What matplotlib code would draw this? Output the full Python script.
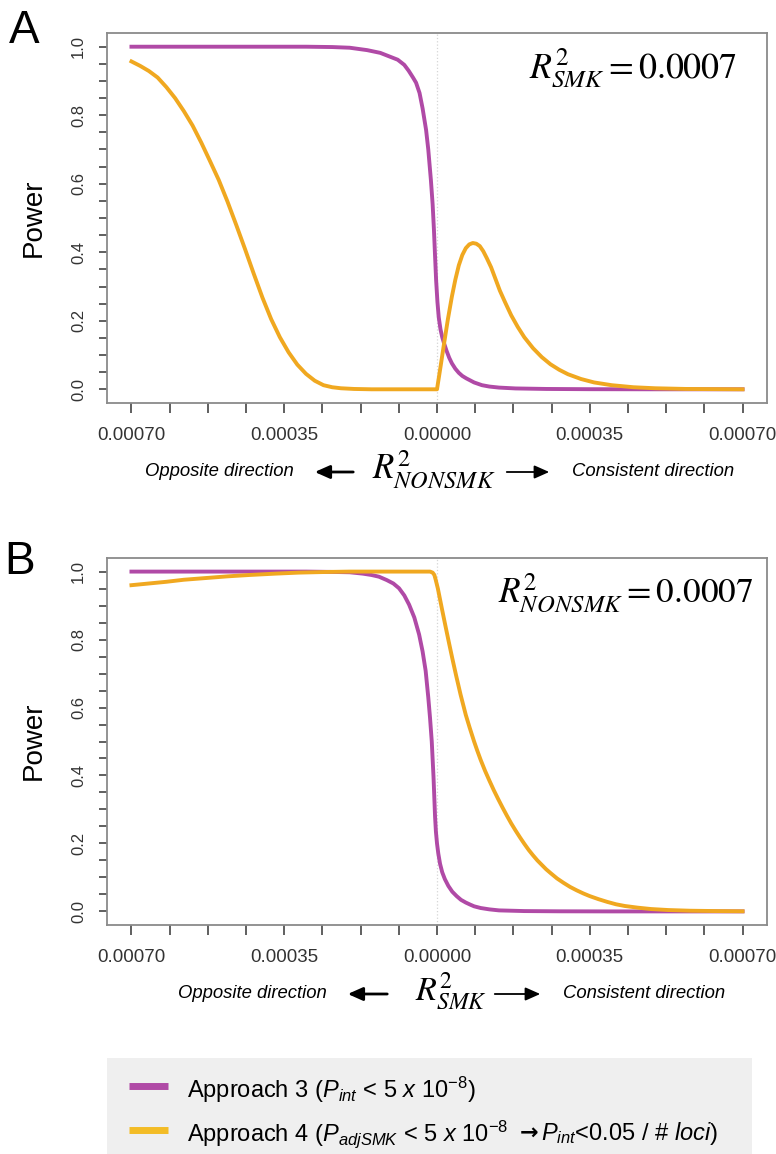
import numpy as np
import matplotlib
matplotlib.use('Agg')
import matplotlib.pyplot as plt
from matplotlib.lines import Line2D
from matplotlib.patches import Rectangle, FancyArrowPatch

plt.rcParams['font.family'] = ['Liberation Sans', 'DejaVu Sans']
plt.rcParams['mathtext.fontset'] = 'custom'
plt.rcParams['mathtext.rm'] = 'Liberation Sans'
plt.rcParams['mathtext.it'] = 'Liberation Sans:italic'
plt.rcParams['mathtext.bf'] = 'Liberation Sans:bold'

# ---------------- data (x in units of 1e-5) ----------------
# Panel A: x = R2_NONSMK (negative = opposite direction), R2_SMK = 0.0007
a3_x = [-70, -30, -24, -20, -16, -13, -11, -9, -7.5, -6.5, -5.5, -4.8, -4.0, -3.3, -2.5, -2.0, -1.4,
        -1.0, -0.7, -0.45, -0.2, 0.1, 0.4, 0.8, 1.2, 1.6, 2.2, 2.8, 3.4, 4.2, 5.0, 5.8, 6.7, 8.5,
        10.3, 12.0, 14.2, 18, 25, 35, 50, 70]
a3_y = [1.0, 1.0, 0.999, 0.997, 0.99, 0.982, 0.972, 0.962, 0.947, 0.93, 0.91, 0.895, 0.865, 0.82,
        0.757, 0.70, 0.611, 0.54, 0.465, 0.39, 0.318, 0.255, 0.21, 0.175, 0.152, 0.135, 0.112, 0.092,
        0.076, 0.06, 0.048, 0.039, 0.032, 0.02, 0.012, 0.008, 0.005, 0.0025, 0.001, 0.0003, 0.0, 0.0]

a4_x = [-70, -68, -66, -64, -62, -60, -58, -56, -54, -52, -50, -48, -46, -44, -42, -40, -38, -36,
        -34, -32, -30, -28, -26, -24, -22, -19, -15, 0, 0.8, 1.6, 2.5, 3.4, 4.2, 5.0, 5.8, 6.6, 7.4,
        8.2, 9.0, 9.8, 10.6, 11.4, 12.4, 13.4, 14.4, 15.6, 17.0, 18.5, 20.0, 22.0, 24.0, 26.0, 28.0,
        30.0, 33.0, 36.0, 40.0, 45.0, 50.0, 57.0, 70.0]
a4_y = [0.957, 0.944, 0.929, 0.91, 0.882, 0.85, 0.812, 0.77, 0.72, 0.666, 0.611, 0.548, 0.48, 0.41,
        0.338, 0.268, 0.205, 0.152, 0.108, 0.072, 0.045, 0.025, 0.012, 0.006, 0.003, 0.001, 0.0, 0.0,
        0.065, 0.132, 0.205, 0.27, 0.32, 0.362, 0.392, 0.412, 0.423, 0.427, 0.425, 0.418, 0.403,
        0.383, 0.356, 0.322, 0.288, 0.254, 0.216, 0.182, 0.152, 0.12, 0.094, 0.073, 0.057, 0.044,
        0.03, 0.02, 0.012, 0.006, 0.003, 0.001, 0.0]

# Panel B: x = R2_SMK, R2_NONSMK = 0.0007
b3_x = [-70, -30, -24, -20, -17, -15, -13.3, -11.5, -10, -8.7, -7.5, -6.4, -5.2, -4.1, -3.3, -2.6,
        -2.0, -1.6, -1.2, -0.8, -0.6, -0.45, -0.25, 0.0, 0.3, 0.7, 1.2, 1.8, 2.6, 3.5, 4.5, 5.5, 6.6,
        7.6, 8.5, 10, 12, 14.2, 20, 28, 40, 70]
b3_y = [1.0, 1.0, 0.999, 0.998, 0.994, 0.99, 0.985, 0.975, 0.965, 0.951, 0.93, 0.903, 0.865, 0.815,
        0.765, 0.708, 0.63, 0.57, 0.5, 0.396, 0.33, 0.28, 0.235, 0.2, 0.17, 0.14, 0.115, 0.095, 0.075,
        0.058, 0.045, 0.034, 0.026, 0.02, 0.015, 0.01, 0.006, 0.003, 0.001, 0.0003, 0.0, 0.0]

b4_x = [-70, -66, -62, -58, -54, -48, -43, -37, -31.7, -25, -20, -1.6, -1.0, -0.6, -0.3, 0.2, 0.7,
        1.2, 2.0, 2.8, 3.5, 4.4, 5.4, 6.6, 7.5, 8.5, 9.2, 10.0, 11.0, 12.0, 13.0, 14.0, 15.0, 16.0,
        17.0, 18.0, 19.0, 20.0, 21.0, 22.0, 23.0, 24.0, 25.0, 26.0, 27.5, 29.0, 30.5, 32.0, 33.5,
        35.0, 37.0, 39.0, 41.0, 43.0, 46.0, 49.0, 53.0, 58.0, 64.0, 70.0]
b4_y = [0.96, 0.965, 0.97, 0.976, 0.98, 0.986, 0.99, 0.994, 0.997, 0.999, 1.0, 1.0, 0.997, 0.99,
        0.976, 0.95, 0.918, 0.886, 0.836, 0.787, 0.745, 0.693, 0.638, 0.578, 0.54, 0.50, 0.474,
        0.446, 0.414, 0.385, 0.357, 0.331, 0.306, 0.282, 0.259, 0.238, 0.218, 0.199, 0.181, 0.165,
        0.150, 0.137, 0.124, 0.113, 0.097, 0.084, 0.072, 0.062, 0.053, 0.045, 0.036, 0.028, 0.021,
        0.016, 0.011, 0.007, 0.004, 0.002, 0.001, 0.0004]

xtick_vals = [-70, -35, 0, 35, 70]
xtick_labels = ['0.00070', '0.00035', '0.00000', '0.00035', '0.00070']
ytick_vals = [0.0, 0.2, 0.4, 0.6, 0.8, 1.0]
ytick_labels = ['0.0', '0.2', '0.4', '0.6', '0.8', '1.0']

label3 = r'Approach 3 ($\mathit{P_{int}}$ < $\mathit{5\ x\ 10^{-8}}$)'
label4_parts = [r'Approach 4 ($\mathit{P_{adjSMK}}$ < $\mathit{5\ x\ 10^{-8}}$',
                '→',
                r'$\mathit{P_{int}}$<$\mathit{0.05\ /\ \#\ loci}$)']

PURPLE = '#B04AA6'
ORANGE = '#F0A820'
ORANGE_LEG = '#F3BC26'

SCALE = 1e-5
W, H = 776, 1154
fig = plt.figure(figsize=(W / 100, H / 100), dpi=100)


def fx(px):
    return px / W


def fy(py):
    return 1 - py / H


def setup(ax):
    ax.set_xlim(-75.6 * SCALE, 75.6 * SCALE)
    ax.set_ylim(-0.04, 1.04)
    ax.set_xticks(np.array(xtick_vals) * SCALE)
    ax.set_xticklabels(xtick_labels)
    ax.set_xticks(np.arange(-70, 70.1, 8.75) * SCALE, minor=True)
    ax.set_yticks(ytick_vals)
    ax.set_yticklabels(ytick_labels, rotation=90, va='center')
    ax.set_yticks(np.arange(0, 1.001, 0.05), minor=True)
    ax.tick_params(axis='x', which='both', length=7, width=1.2, color='#444444',
                   labelsize=13.5, labelcolor='#333333', pad=10)
    ax.tick_params(axis='y', which='both', length=6, width=1.2, color='#444444',
                   labelsize=12, labelcolor='#333333', pad=9)
    for s in ax.spines.values():
        s.set_color('#8a8a8a')
        s.set_linewidth(1.3)
    ax.axvline(0, color='#d5d5d5', lw=0.9, ls=':', zorder=0)


axA = fig.add_axes([fx(107), fy(403), fx(660), 370 / H])
axB = fig.add_axes([fx(107), fy(925), fx(660), 367 / H])
for ax in (axA, axB):
    setup(ax)

LW = 2.8
axA.plot(np.array(a3_x) * SCALE, a3_y, color=PURPLE, lw=LW, solid_joinstyle='round')
axA.plot(np.array(a4_x) * SCALE, a4_y, color=ORANGE, lw=LW, solid_joinstyle='round')
axB.plot(np.array(b3_x) * SCALE, b3_y, color=PURPLE, lw=LW, solid_joinstyle='round')
axB.plot(np.array(b4_x) * SCALE, b4_y, color=ORANGE, lw=LW, solid_joinstyle='round')

# annotations
axA.text((737 - 107) / 660, 0.905, r'$R^2_{SMK} = 0.0007$', transform=axA.transAxes,
         ha='right', va='center', fontsize=25.8, math_fontfamily='stix')
axB.text((753 - 107) / 660, 0.905, r'$R^2_{NONSMK} = 0.0007$', transform=axB.transAxes,
         ha='right', va='center', fontsize=25.4, math_fontfamily='stix')

# panel letters and y labels
fig.text(fx(9), fy(43), 'A', fontsize=33, ha='left', va='baseline')
fig.text(fx(4), fy(574), 'B', fontsize=33, ha='left', va='baseline')
fig.text(fx(34), fy(218), 'Power', fontsize=20, rotation=90, ha='center', va='center')
fig.text(fx(34), fy(741), 'Power', fontsize=20, rotation=90, ha='center', va='center')


def xlabel_row(y, x_opp, arr_l, x_r2, r2txt, r2size, arr_r, x_cons):
    fig.text(fx(x_opp), fy(y), 'Opposite direction', fontsize=13.3, style='italic',
             ha='left', va='center')
    fig.text(fx(x_cons), fy(y), 'Consistent direction', fontsize=13.3, style='italic',
             ha='left', va='center')
    fig.text(fx(x_r2), fy(y + 6), r2txt, fontsize=r2size, math_fontfamily='stix',
             ha='left', va='baseline')
    fig.add_artist(FancyArrowPatch(
        (fx(arr_l[0]), fy(y)), (fx(arr_l[1]), fy(y)), transform=fig.transFigure,
        arrowstyle='-|>,head_length=9,head_width=4', lw=2.0, color='black', mutation_scale=1))
    fig.add_artist(FancyArrowPatch(
        (fx(arr_r[0]), fy(y)), (fx(arr_r[1]), fy(y)), transform=fig.transFigure,
        arrowstyle='-|>,head_length=9,head_width=4', lw=1.3, color='black', mutation_scale=1))


xlabel_row(472, 145, (356, 312), 372, r'$R^2_{NONSMK}$', 25, (504, 552), 572)
xlabel_row(994, 178, (390, 345), 415, r'$R^2_{SMK}$', 24.5, (492, 543), 563)

# legend (grey panel with line keys)
LEG_FS = 17
fig.add_artist(Rectangle((fx(107), 0), fx(645), fy(1058), transform=fig.transFigure,
                         facecolor='#efefef', edgecolor='none', zorder=0))
for yy, col in ((1086, PURPLE), (1130, ORANGE_LEG)):
    fig.add_artist(Line2D([fx(129), fx(168)], [fy(yy), fy(yy)], transform=fig.transFigure,
                          color=col, lw=5, solid_capstyle='butt'))
fig.text(fx(187), fy(1086), label3, fontsize=LEG_FS, ha='left', va='center_baseline')

renderer = fig.canvas.get_renderer()
t1 = fig.text(fx(187), fy(1130), label4_parts[0], fontsize=LEG_FS, ha='left',
              va='center_baseline')
x_next = t1.get_window_extent(renderer).x1 + 12
t2 = fig.text(x_next / W, fy(1131), label4_parts[1], fontsize=16, ha='left',
              va='center_baseline', family='DejaVu Sans', weight='bold')
x_next = t2.get_window_extent(renderer).x1 + 2
fig.text(x_next / W, fy(1130), label4_parts[2], fontsize=LEG_FS, ha='left',
         va='center_baseline')

fig.savefig('out.png', dpi=100, facecolor='white')
